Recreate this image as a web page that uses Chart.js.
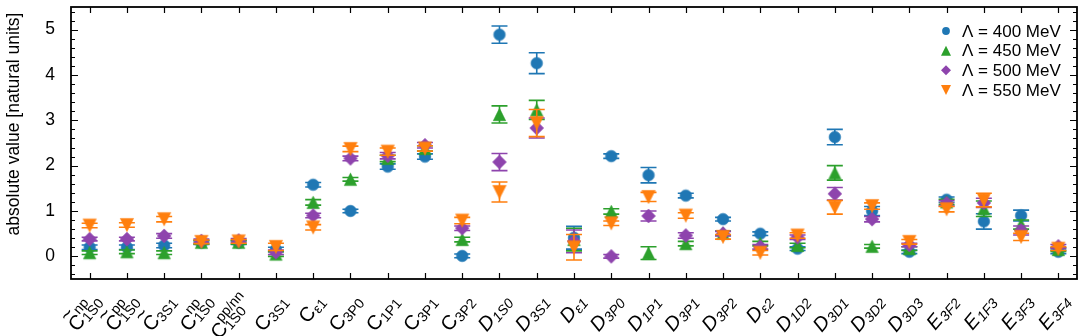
<!DOCTYPE html>
<html>
<head>
<meta charset="utf-8">
<script src="https://cdn.jsdelivr.net/npm/chart.js@4.4.0/dist/chart.umd.min.js"></script>
<style>
html,body{margin:0;padding:0;background:#ffffff;}
#wrap{width:1084px;height:336px;position:relative;}
</style>
</head>
<body>
<div id="wrap"><canvas id="c" width="1084" height="336"></canvas></div>
<script>
// ---------- data ----------
const categories = ['~C^{np}_{1S0}', '~C^{pp}_{1S0}', '~C_{3S1}', 'C^{np}_{1S0}', 'C^{pp/nn}_{1S0}', 'C_{3S1}', 'C_{ε1}', 'C_{3P0}', 'C_{1P1}', 'C_{3P1}', 'C_{3P2}',
  'D_{1S0}', 'D_{3S1}', 'D_{ε1}', 'D_{3P0}', 'D_{1P1}', 'D_{3P1}', 'D_{3P2}', 'D_{ε2}', 'D_{1D2}', 'D_{3D1}', 'D_{3D2}', 'D_{3D3}',
  'E_{3F2}', 'E_{1F3}', 'E_{3F3}', 'E_{3F4}'];

const seriesNames = ['Λ = 400 MeV', 'Λ = 450 MeV', 'Λ = 500 MeV', 'Λ = 550 MeV'];

const lambda400 = [0.20, 0.20, 0.24, 0.30, 0.30, 0.15, 1.58, 1.00, 1.98, 2.20, 0.01, 4.89, 4.26, 0.41, 2.21, 1.79, 1.34, 0.82, 0.50, 0.17, 2.63, 1.00, 0.10, 1.25, 0.77, 0.90, 0.10];
const err400    = [0.05, 0.05, 0.05, 0.04, 0.04, 0.05, 0.05, 0.04, 0.06, 0.06, 0.04, 0.19, 0.23, 0.25, 0.05, 0.17, 0.05, 0.04, 0.04, 0.04, 0.17, 0.10, 0.04, 0.06, 0.17, 0.12, 0.04];

const lambda450 = [0.08, 0.10, 0.08, 0.31, 0.31, 0.05, 1.19, 1.70, 2.16, 2.38, 0.37, 3.13, 3.23, 0.37, 0.99, 0.07, 0.28, 0.51, 0.28, 0.24, 1.84, 0.22, 0.17, 1.20, 1.05, 0.70, 0.15];
const err450    = [0.04, 0.04, 0.04, 0.04, 0.04, 0.05, 0.06, 0.04, 0.07, 0.06, 0.05, 0.19, 0.21, 0.25, 0.06, 0.14, 0.05, 0.05, 0.05, 0.05, 0.16, 0.04, 0.04, 0.06, 0.17, 0.10, 0.04];

const lambda500 = [0.38, 0.38, 0.45, 0.34, 0.35, 0.09, 0.90, 2.16, 2.22, 2.45, 0.62, 2.08, 2.83, 0.33, 0.00, 0.89, 0.46, 0.50, 0.21, 0.42, 1.38, 0.82, 0.25, 1.17, 1.18, 0.57, 0.22];
const err500    = [0.04, 0.04, 0.05, 0.04, 0.04, 0.05, 0.05, 0.05, 0.07, 0.06, 0.05, 0.19, 0.22, 0.25, 0.04, 0.11, 0.06, 0.05, 0.05, 0.05, 0.14, 0.06, 0.04, 0.06, 0.10, 0.10, 0.04];

const lambda550 = [0.68, 0.69, 0.82, 0.32, 0.33, 0.21, 0.64, 2.37, 2.31, 2.38, 0.79, 1.42, 2.94, 0.20, 0.73, 1.31, 0.90, 0.43, 0.08, 0.46, 1.08, 1.11, 0.32, 1.04, 1.24, 0.43, 0.17];
const err550    = [0.05, 0.05, 0.06, 0.04, 0.04, 0.08, 0.06, 0.06, 0.08, 0.06, 0.07, 0.22, 0.30, 0.28, 0.05, 0.10, 0.06, 0.05, 0.05, 0.06, 0.15, 0.07, 0.05, 0.06, 0.15, 0.08, 0.04];

const yTickValues = [0, 1, 2, 3, 4, 5];
const yMinorStep = 0.2;
const yMin = -0.5, yMax = 5.5;
const yTitle = 'absolute value [natural units]';

// ---------- styling ----------
const colors = ['#1f77b4', '#2ca02c', '#8e44ad', '#ff7f0e'];
const shapes = ['circle', 'up', 'diamond', 'down'];
const markerSize = [5.8, 6.2, 6.9, 6.6];
const legendSize = [3.9, 5.0, 5.0, 5.0];
const FONT = '"Liberation Sans", Arial, Helvetica, sans-serif';

function markerPath(ctx, shape, cx, cy, s) {
  ctx.beginPath();
  if (shape === 'circle') {
    ctx.arc(cx, cy, s, 0, Math.PI * 2);
  } else if (shape === 'up') {
    ctx.moveTo(cx, cy - s); ctx.lineTo(cx + s, cy + s); ctx.lineTo(cx - s, cy + s); ctx.closePath();
  } else if (shape === 'down') {
    ctx.moveTo(cx, cy + s); ctx.lineTo(cx + s, cy - s); ctx.lineTo(cx - s, cy - s); ctx.closePath();
  } else {
    ctx.moveTo(cx, cy - s); ctx.lineTo(cx + s, cy); ctx.lineTo(cx, cy + s); ctx.lineTo(cx - s, cy); ctx.closePath();
  }
}
function makeMarker(shape, s, color) {
  const c = document.createElement('canvas');
  const n = Math.ceil(2 * s + 4);
  c.width = n; c.height = n;
  const g = c.getContext('2d');
  markerPath(g, shape, n / 2, n / 2, s);
  g.fillStyle = color; g.fill();
  g.lineWidth = 0.6; g.strokeStyle = color; g.stroke();
  return c;
}

const seriesValues = [lambda400, lambda450, lambda500, lambda550];
const seriesErrors = [err400, err450, err500, err550];

const datasets = seriesValues.map((vals, i) => ({
  label: seriesNames[i],
  data: vals,
  errors: seriesErrors[i],
  showLine: false,
  borderColor: colors[i],
  backgroundColor: colors[i],
  pointStyle: makeMarker(shapes[i], markerSize[i], colors[i]),
  pointRadius: 6,
  pointHoverRadius: 6,
  order: 4 - i
}));

// ---------- plugins ----------
const errorBars = {
  id: 'errorBars',
  beforeDatasetDraw(chart, args) {
    const ds = chart.data.datasets[args.index];
    const ys = chart.scales.y;
    const ctx = chart.ctx;
    ctx.save();
    ctx.strokeStyle = ds.borderColor;
    ctx.lineWidth = 1.6;
    args.meta.data.forEach((pt, j) => {
      const v = ds.data[j], e = ds.errors[j];
      const x = pt.x;
      const y1 = ys.getPixelForValue(v + e), y2 = ys.getPixelForValue(v - e);
      ctx.beginPath();
      ctx.moveTo(x, y1); ctx.lineTo(x, y2);
      ctx.moveTo(x - 8, y1); ctx.lineTo(x + 8, y1);
      ctx.moveTo(x - 8, y2); ctx.lineTo(x + 8, y2);
      ctx.stroke();
    });
    ctx.restore();
  }
};

function parseLabel(s) {
  let tilde = false;
  if (s[0] === '~') { tilde = true; s = s.slice(1); }
  const base = s[0];
  const sup = (s.match(/\^\{([^}]*)\}/) || [null, ''])[1];
  const sub = (s.match(/_\{([^}]*)\}/) || [null, ''])[1];
  return { tilde, base, sup, sub };
}

const frameAndLabels = {
  id: 'frameAndLabels',
  afterDraw(chart) {
    const ctx = chart.ctx;
    const a = chart.chartArea;
    const xs = chart.scales.x, ys = chart.scales.y;
    ctx.save();
    ctx.strokeStyle = '#000';
    ctx.lineWidth = 1.2;
    ctx.beginPath();
    for (let v = -0.4; v < yMax; v += yMinorStep) {
      const vv = Math.round(v * 10) / 10;
      const y = Math.round(ys.getPixelForValue(vv)) + 0.5;
      const major = Math.abs(vv - Math.round(vv)) < 1e-6;
      const len = major ? 7 : 4;
      ctx.moveTo(a.left, y); ctx.lineTo(a.left + len, y);
      ctx.moveTo(a.right, y); ctx.lineTo(a.right - len, y);
    }
    categories.forEach((c, i) => {
      const x = Math.round(xs.getPixelForValue(i)) + 0.5;
      ctx.moveTo(x, a.bottom); ctx.lineTo(x, a.bottom - 6);
      ctx.moveTo(x, a.top); ctx.lineTo(x, a.top + 6);
    });
    ctx.stroke();
    ctx.lineWidth = 1.8;
    ctx.strokeRect(a.left, a.top, a.right - a.left, a.bottom - a.top);

    // x tick labels (rich text, rotated)
    ctx.fillStyle = '#000';
    ctx.textBaseline = 'alphabetic';
    ctx.textAlign = 'left';
    const ang = 50 * Math.PI / 180;
    categories.forEach((c, i) => {
      const p = parseLabel(c);
      const italic = (p.base === 'D' || p.base === 'E') ? 'italic ' : '';
      const bf = italic + '20px ' + FONT;
      const sf = italic + '14px ' + FONT;
      ctx.font = bf; const wb = ctx.measureText(p.base).width;
      ctx.font = sf; const ws = Math.max(ctx.measureText(p.sub).width, ctx.measureText(p.sup).width);
      const L = wb + 0.5 + ws;
      const x0 = xs.getPixelForValue(i) + 13;
      const y0 = 302;
      ctx.save();
      ctx.translate(x0, y0);
      ctx.rotate(-ang);
      const sx = -L;
      ctx.font = bf;
      ctx.fillText(p.base, sx, 0);
      if (p.tilde) {
        const tw = ctx.measureText('~').width;
        ctx.fillText('~', sx + wb / 2 - tw / 2, -13);
      }
      ctx.font = sf;
      if (p.sub) ctx.fillText(p.sub, sx + wb + 0.5, 2.5);
      if (p.sup) ctx.fillText(p.sup, sx + wb + 0.5, -9.5);
      ctx.restore();
    });

    // y title
    ctx.save();
    ctx.translate(14, 124);
    ctx.rotate(-Math.PI / 2);
    ctx.font = '17.5px ' + FONT;
    ctx.textAlign = 'center';
    ctx.textBaseline = 'middle';
    ctx.fillText(yTitle, 0, 0);
    ctx.restore();

    // legend
    const rows = [31, 50.7, 70.3, 90];
    ctx.font = '17px ' + FONT;
    ctx.textAlign = 'left';
    ctx.textBaseline = 'middle';
    seriesNames.forEach((name, i) => {
      markerPath(ctx, shapes[i], 946, rows[i], legendSize[i]);
      ctx.fillStyle = colors[i]; ctx.fill();
      ctx.fillStyle = '#000';
      ctx.fillText(name, 962, rows[i] + 1);
    });
    ctx.restore();
  }
};

// ---------- chart ----------
new Chart(document.getElementById('c'), {
  type: 'line',
  data: { labels: categories, datasets },
  options: {
    responsive: false,
    animation: false,
    devicePixelRatio: 1,
    layout: { padding: { top: 3, right: 5, left: 0, bottom: 0 } },
    plugins: { legend: { display: false }, tooltip: { enabled: false } },
    scales: {
      x: {
        type: 'category',
        offset: true,
        grid: { display: false, drawTicks: false },
        border: { display: false },
        ticks: { display: false },
        afterFit(scale) { scale.height = 57; scale.paddingLeft = 0; scale.paddingRight = 0; }
      },
      y: {
        type: 'linear',
        min: yMin, max: yMax,
        grid: { display: false, drawTicks: false },
        border: { display: false },
        afterBuildTicks(scale) { scale.ticks = yTickValues.map(v => ({ value: v })); },
        ticks: { color: '#000', padding: 16, font: { family: FONT, size: 17.5 } },
        afterFit(scale) { scale.width = 71; scale.paddingTop = 0; scale.paddingBottom = 0; }
      }
    }
  },
  plugins: [errorBars, frameAndLabels]
});
</script>
</body>
</html>
